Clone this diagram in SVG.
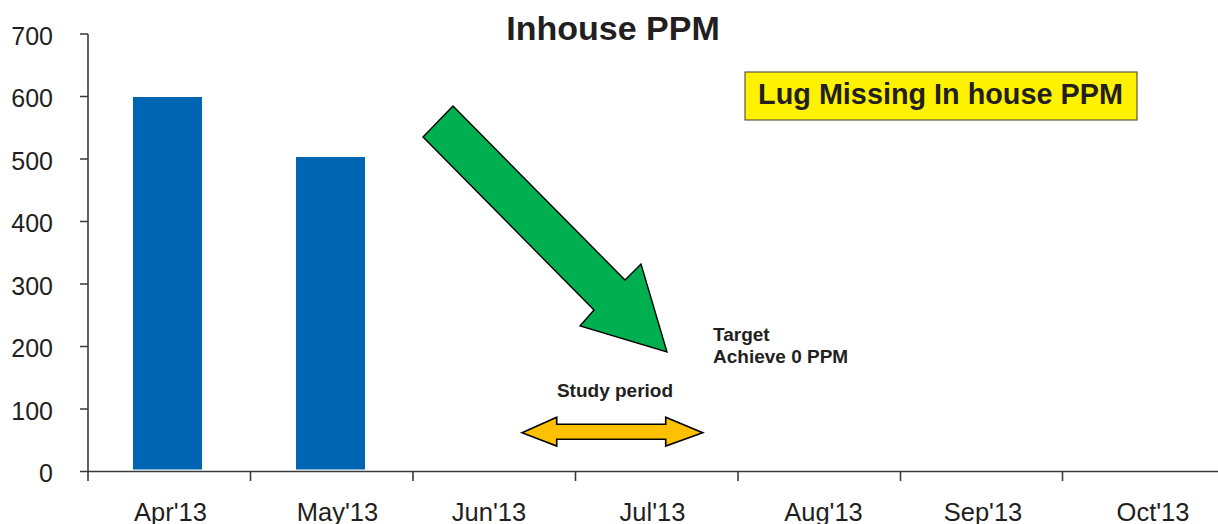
<svg xmlns="http://www.w3.org/2000/svg" width="1218" height="524" viewBox="0 0 1218 524">
  <style>
    .axis { stroke: #3a3a3a; stroke-width: 1.6; fill: none; }
    .ylab { font-family: "Liberation Sans", Arial, sans-serif; font-size: 25px; fill: #231f20; text-anchor: end; }
    .xlab { font-family: "Liberation Sans", Arial, sans-serif; font-size: 25.5px; fill: #231f20; text-anchor: middle; }
    .bar { fill: #0066b3; }
    .bold { font-family: "Liberation Sans", Arial, sans-serif; font-weight: bold; fill: #231f20; }
  </style>
  <rect width="1218" height="524" fill="#ffffff"/>

  <!-- title -->
  <text class="bold" x="613" y="40" font-size="34" text-anchor="middle">Inhouse PPM</text>

  <!-- axes -->
  <g id="axes">
    <path class="axis" d="M88 34V481 M80 34H88 M80 96.5H88 M80 159H88 M80 221.5H88 M80 284H88 M80 346.5H88 M80 409H88 M80 471.5H88"/>
    <path class="axis" d="M88 471.5H1218 M250.5 471.5V481 M413 471.5V481 M575.5 471.5V481 M738 471.5V481 M900.5 471.5V481 M1062.5 471.5V481"/>
    <text class="ylab" x="53" y="44.5">700</text>
    <text class="ylab" x="53" y="107">600</text>
    <text class="ylab" x="53" y="169.5">500</text>
    <text class="ylab" x="53" y="232">400</text>
    <text class="ylab" x="53" y="294.5">300</text>
    <text class="ylab" x="53" y="357">200</text>
    <text class="ylab" x="53" y="419.5">100</text>
    <text class="ylab" x="53" y="482">0</text>
    <text class="xlab" x="170.5" y="521">Apr'13</text>
    <text class="xlab" x="337.5" y="521">May'13</text>
    <text class="xlab" x="489" y="521">Jun'13</text>
    <text class="xlab" x="652.5" y="521">Jul'13</text>
    <text class="xlab" x="823.5" y="521">Aug'13</text>
    <text class="xlab" x="983" y="521">Sep'13</text>
    <text class="xlab" x="1153" y="521">Oct'13</text>
  </g>

  <!-- bars -->
  <g id="bars">
    <rect class="bar" x="133" y="97" width="69" height="372.5"/>
    <rect class="bar" x="296" y="157" width="69" height="312.5"/>
  </g>

  <!-- legend box -->
  <g id="legend">
    <rect x="745" y="72" width="392" height="48" fill="#fff200" stroke="#5a5a40" stroke-width="1.2"/>
    <text class="bold" x="940.5" y="104" font-size="28.8" text-anchor="middle">Lug Missing In house PPM</text>
  </g>

  <!-- downward trend arrow -->
  <g id="trend-arrow">
    <polygon points="453,106 423,137 594,310 580,326 667,352 641,264 625,280" fill="#00b050" stroke="#000" stroke-width="1.4" stroke-linejoin="miter"/>
  </g>

  <g id="target-label">
    <text class="bold" x="713" y="341" font-size="19">Target</text>
    <text class="bold" x="713" y="363" font-size="19">Achieve 0 PPM</text>
  </g>

  <!-- study period span -->
  <g id="study-period">
    <text class="bold" x="615" y="397" font-size="19" text-anchor="middle">Study period</text>
    <polygon points="522,432.7 556.7,417.3 556.7,424.3 665.7,424.3 665.7,417.3 702.7,432.7 665.7,446 665.7,439.3 556.7,439.3 556.7,446" fill="#ffc000" stroke="#000" stroke-width="1.6"/>
  </g>
</svg>
